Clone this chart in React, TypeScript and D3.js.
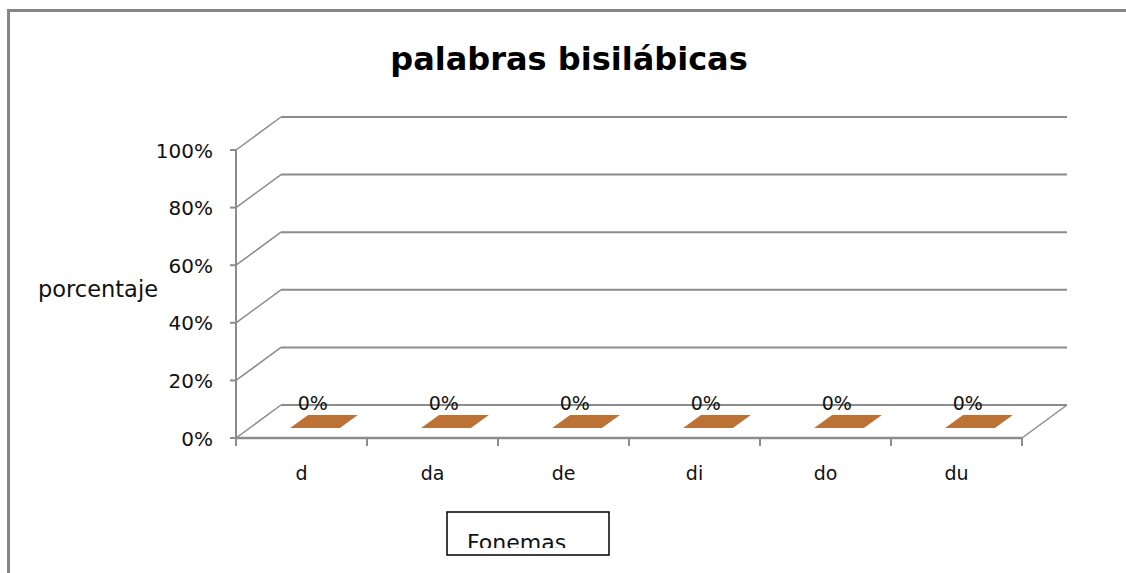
import React from "react";
import * as d3 from "d3";

// Category labels (phonemes) and the share of each one
const categories: string[] = ["d", "da", "de", "di", "do", "du"];
const values: number[] = [0, 0, 0, 0, 0, 0];
const yTicks: number[] = [0, 0.2, 0.4, 0.6, 0.8, 1];

const W = 1126;
const H = 573;
const font = "'DejaVu Sans', sans-serif";
const grid = "#8c8c8c";

// Oblique 3D depth of the plot box
const DX = 45;
const DY = -33;
const barFront = 0.3;
const barBack = 0.7;

export default function App() {
  const x = d3
    .scaleBand<string>()
    .domain(categories)
    .range([236, 1022])
    .paddingInner(0.62)
    .paddingOuter(0.31);
  const y = d3.scaleLinear().domain([0, 1]).range([438, 150]);
  const pct = d3.format(".0%");
  const step = x.step();
  const x0 = 236;
  const x1 = 1022;

  return (
    <svg
      width={W}
      height={H}
      style={{ position: "fixed", left: 0, top: 0, background: "#fff" }}
    >
      <defs>
        <clipPath id="axis-title-clip">
          <rect x={447} y={512} width={162} height={36} />
        </clipPath>
      </defs>

      {/* chart frame */}
      <rect
        x={8.5}
        y={10.5}
        width={W + 20}
        height={H + 20}
        fill="none"
        stroke="#868686"
        strokeWidth={3}
      />

      <text
        x={569}
        y={70}
        textAnchor="middle"
        fontFamily={font}
        fontWeight="bold"
        fontSize={32}
        fill="#000"
      >
        palabras bisilábicas
      </text>

      {/* back wall gridlines and side wall diagonals */}
      {yTicks.map((t) => (
        <g key={t}>
          <line
            x1={x0 + DX}
            x2={x1 + DX}
            y1={y(t) + DY}
            y2={y(t) + DY}
            stroke={grid}
            strokeWidth={2}
          />
          <line
            x1={x0}
            y1={y(t)}
            x2={x0 + DX}
            y2={y(t) + DY}
            stroke={grid}
            strokeWidth={1.5}
          />
          <line
            x1={x0 - 6}
            x2={x0}
            y1={y(t)}
            y2={y(t)}
            stroke={grid}
            strokeWidth={2}
          />
          <text
            x={213}
            y={y(t) + 2}
            textAnchor="end"
            dominantBaseline="middle"
            fontFamily={font}
            fontSize={20}
            fill="#111"
          >
            {pct(t)}
          </text>
        </g>
      ))}

      {/* right floor edge */}
      <line
        x1={x1}
        y1={y(0)}
        x2={x1 + DX}
        y2={y(0) + DY}
        stroke={grid}
        strokeWidth={1.5}
      />

      {/* front axes */}
      <line x1={x0} x2={x0} y1={y(1)} y2={y(0)} stroke={grid} strokeWidth={2} />
      <line x1={x0} x2={x1} y1={y(0)} y2={y(0)} stroke={grid} strokeWidth={2.5} />
      {d3.range(categories.length + 1).map((i) => (
        <line
          key={i}
          x1={x0 + i * step}
          x2={x0 + i * step}
          y1={y(0)}
          y2={y(0) + 8}
          stroke={grid}
          strokeWidth={2}
        />
      ))}

      {/* bars (top faces) with their value labels */}
      {categories.map((c, i) => {
        const bx = x(c) as number;
        const bw = x.bandwidth();
        const top = y(values[i]);
        const fx = DX * barFront;
        const fy = DY * barFront;
        const bkx = DX * barBack;
        const bky = DY * barBack;
        const path = d3.path();
        path.moveTo(bx + fx, top + fy);
        path.lineTo(bx + bw + fx, top + fy);
        path.lineTo(bx + bw + bkx, top + bky);
        path.lineTo(bx + bkx, top + bky);
        path.closePath();
        return (
          <g key={c}>
            <path d={path.toString()} fill="#bc7234" />
            <text
              x={bx + bw / 2 + DX * 0.25}
              y={top + DY * 0.85}
              textAnchor="middle"
              fontFamily={font}
              fontSize={19}
              fill="#111"
            >
              {pct(values[i])}
            </text>
            <text
              x={bx + bw / 2}
              y={480}
              textAnchor="middle"
              fontFamily={font}
              fontSize={19}
              fill="#111"
            >
              {c}
            </text>
          </g>
        );
      })}

      <text
        x={38}
        y={297}
        fontFamily={font}
        fontSize={22.5}
        fill="#111"
      >
        porcentaje
      </text>

      {/* x-axis title box */}
      <rect
        x={447}
        y={512}
        width={162}
        height={43}
        fill="#fff"
        stroke="#000"
        strokeWidth={1.5}
      />
      <text
        x={467}
        y={550}
        fontFamily={font}
        fontSize={22}
        fill="#111"
        clipPath="url(#axis-title-clip)"
      >
        Fonemas
      </text>
    </svg>
  );
}
